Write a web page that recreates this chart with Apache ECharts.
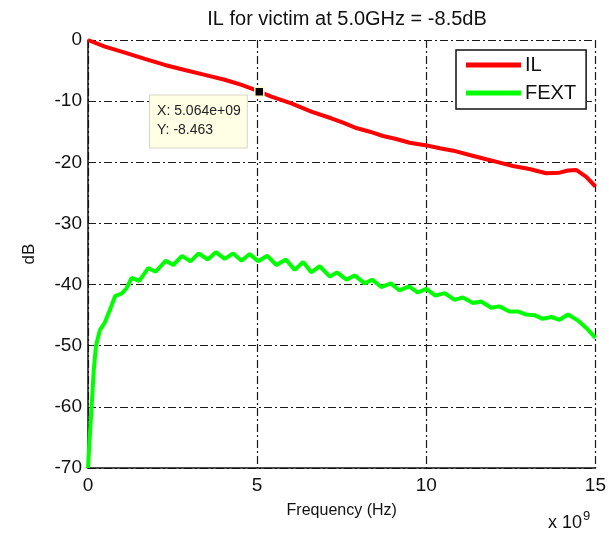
<!DOCTYPE html>
<html>
<head>
<meta charset="utf-8">
<script src="https://cdn.jsdelivr.net/npm/echarts@6/dist/echarts.min.js"></script>
<style>
html,body{margin:0;padding:0;background:#fff;}
#chart{width:609px;height:533px;}
</style>
</head>
<body>
<div id="chart"></div>
<script>
// Frequency in units of 1e9 Hz
var ilFreq = [0, 0.5, 1.09, 1.68, 2.27, 2.86, 3.45, 4.04, 4.54, 5.0, 5.42, 6.01, 6.6, 7.19, 7.54, 7.93, 8.33, 8.72, 9.11, 9.51, 9.97, 10.4, 10.8, 11.28, 11.77, 12.17, 12.56, 13.05, 13.54, 13.94, 14.19, 14.43, 14.73, 15.0];
var ilDb   = [0, -1.09, -2.07, -3.1, -4.08, -4.9, -5.7, -6.5, -7.35, -8.3, -9.26, -10.35, -11.7, -12.8, -13.5, -14.4, -15.0, -15.7, -16.2, -16.8, -17.2, -17.7, -18.1, -18.8, -19.5, -20.05, -20.6, -21.1, -21.8, -21.7, -21.35, -21.25, -22.4, -23.96];

var fextFreq = [0, 0.05, 0.108, 0.17, 0.236, 0.354, 0.49, 0.65, 0.8, 0.99, 1.14, 1.29, 1.515, 1.78, 2.0, 2.3, 2.52, 2.78, 3.03, 3.27, 3.54, 3.78, 4.04, 4.29, 4.54, 4.78, 5.03, 5.3, 5.57, 5.85, 6.11, 6.36, 6.6, 6.85, 7.15, 7.36, 7.64, 7.88, 8.18, 8.4, 8.67, 8.95, 9.21, 9.49, 9.75, 10.0, 10.27, 10.54, 10.84, 11.08, 11.38, 11.62, 11.92, 12.16, 12.46, 12.71, 12.95, 13.2, 13.44, 13.69, 13.94, 14.19, 14.48, 14.73, 15.0];
var fextDb   = [-70, -65, -59.9, -54, -50, -47.4, -46.3, -44.1, -41.9, -41.5, -40.6, -38.9, -39.4, -37.3, -37.9, -36.1, -36.8, -35.3, -36.2, -34.9, -35.9, -34.7, -35.8, -34.9, -36.1, -35.0, -36.2, -35.3, -36.8, -35.9, -37.6, -36.3, -38.0, -37.0, -38.7, -38.0, -39.2, -38.5, -39.8, -39.2, -40.4, -39.8, -40.96, -40.3, -41.3, -40.7, -41.8, -41.4, -42.5, -42.1, -43.0, -42.76, -43.8, -43.57, -44.4, -44.4, -44.9, -45.0, -45.6, -45.3, -45.75, -44.9, -45.86, -47.1, -48.7];

var xTicks = [0, 5, 10, 15];
var yTicks = [0, -10, -20, -30, -40, -50, -60, -70];
var tipX = 5.064, tipY = -8.463;
var titleText = 'IL for victim at 5.0GHz = -8.5dB';

function zip(a, b) { return a.map(function (v, i) { return [v, b[i]]; }); }

var FONT = 'Liberation Sans, Arial, sans-serif';
var gridLine = { show: true, lineStyle: { color: '#1a1a1a', width: 1.2, type: [8, 3, 2, 3] } };

var chart = echarts.init(document.getElementById('chart'), null, { renderer: 'canvas' });
chart.setOption({
  animation: false,
  backgroundColor: '#fff',
  title: {
    text: titleText, left: 342, top: 4, textAlign: 'center',
    textStyle: { fontFamily: FONT, fontSize: 20, fontWeight: 'normal', color: '#111' }
  },
  grid: { left: 88, right: 13, top: 40, bottom: 65 },
  legend: {
    left: 456, top: 50, orient: 'vertical',
    backgroundColor: '#fff', borderColor: '#111', borderWidth: 1.5,
    padding: [5, 10, 6, 10], itemGap: 8, itemWidth: 55, itemHeight: 5,
    icon: 'rect',
    textStyle: { fontFamily: FONT, fontSize: 20, color: '#111', padding: [0, 0, 0, -1] },
    data: ['IL', 'FEXT']
  },
  xAxis: {
    type: 'value', min: xTicks[0], max: xTicks[xTicks.length - 1], interval: 5,
    name: 'Frequency (Hz)', nameLocation: 'middle', nameGap: 35,
    nameTextStyle: { fontFamily: FONT, fontSize: 16, color: '#111' },
    axisLine: { show: true, onZero: false, lineStyle: { color: '#111', width: 1.5 } },
    axisTick: { show: false },
    axisLabel: { fontFamily: FONT, fontSize: 19, color: '#111', margin: 8 },
    splitLine: gridLine
  },
  yAxis: {
    type: 'value', min: yTicks[yTicks.length - 1], max: yTicks[0], interval: 10,
    name: 'dB', nameLocation: 'middle', nameGap: 50, nameRotate: 90,
    nameTextStyle: { fontFamily: FONT, fontSize: 17, color: '#111' },
    axisLine: { show: true, onZero: false, lineStyle: { color: '#111', width: 1.5 } },
    axisTick: { show: false },
    axisLabel: { fontFamily: FONT, fontSize: 19, color: '#111', margin: 6 },
    splitLine: gridLine
  },
  series: [
    {
      name: 'IL', type: 'line', data: zip(ilFreq, ilDb), showSymbol: false, symbol: 'none',
      lineStyle: { color: '#ff0000', width: 4 }, itemStyle: { color: '#ff0000' }, z: 3,
      markPoint: {
        data: [{ coord: [tipX, tipY] }],
        symbol: 'rect', symbolSize: 9,
        itemStyle: { color: '#000', borderColor: '#ffffcc', borderWidth: 1.5 },
        label: {
          show: true, position: [-104, 9], align: 'left', verticalAlign: 'top',
          backgroundColor: '#ffffe6', borderColor: '#d6d6c8', borderWidth: 1,
          padding: [6, 6, 8, 7], lineHeight: 19,
          fontFamily: FONT, fontSize: 14, color: '#222',
          formatter: 'X: ' + tipX.toFixed(3) + 'e+09\nY: ' + tipY.toFixed(3)
        }
      }
    },
    {
      name: 'FEXT', type: 'line', data: zip(fextFreq, fextDb), showSymbol: false, symbol: 'none',
      lineStyle: { color: '#00ff00', width: 4 }, itemStyle: { color: '#00ff00' }, z: 2
    }
  ],
  graphic: [
    {
      type: 'text', left: 548, top: 510,
      style: {
        text: 'x 10{s|9}', fontFamily: FONT, fontSize: 18, fill: '#111',
        rich: { s: { fontSize: 13, verticalAlign: 'top', padding: [0, 0, 14, 1], fontFamily: FONT } }
      }
    }
  ]
});
</script>
</body>
</html>
